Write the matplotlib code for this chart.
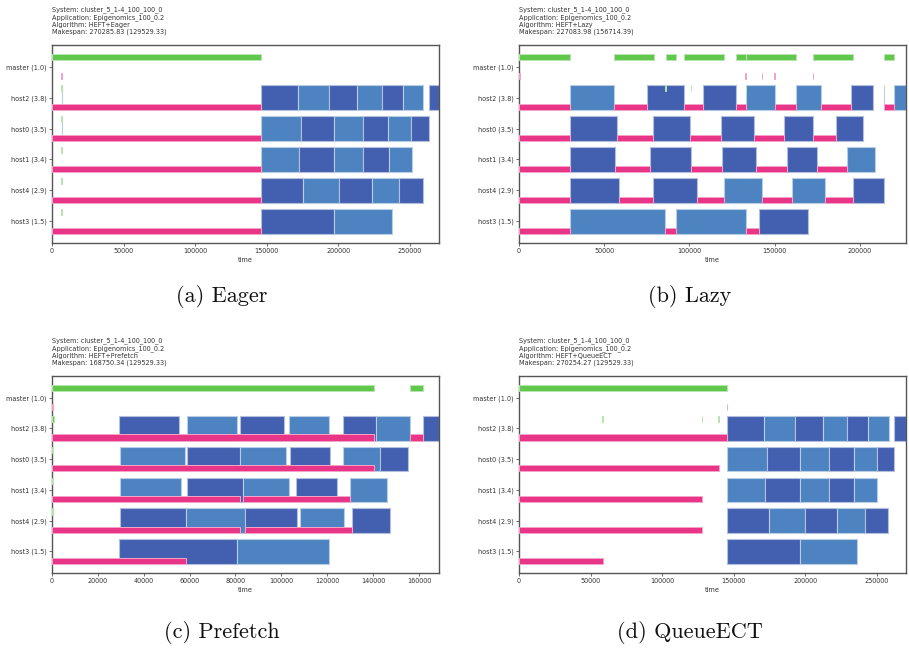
import matplotlib
matplotlib.use("Agg")
import matplotlib.pyplot as plt
from matplotlib.ticker import MultipleLocator
from matplotlib.colors import to_rgb

# ---------------------------------------------------------------- data
HOSTS = ["master (1.0)", "host2 (3.8)", "host0 (3.5)", "host1 (3.4)", "host4 (2.9)", "host3 (1.5)"]
SYSTEM = "cluster_5_1-4_100_100_0"
APPLICATION = "Epigenomics_100_0.2"
ALGORITHMS = ["HEFT+Eager", "HEFT+Lazy", "HEFT+Prefetch", "HEFT+QueueECT"]
MAKESPANS = ["270285.83", "227083.98", "168750.34", "270254.27"]
LOWER_BOUNDS = ["129529.33", "156714.39", "129529.33", "129529.33"]
MAKESPAN_VALUES = [270285.83, 227083.98, 168750.34, 270254.27]
CAPTIONS = ["(a) Eager", "(b) Lazy", "(c) Prefetch", "(d) QueueECT"]
XTICK_STEPS = [50000, 50000, 20000, 50000]

# master upload intervals (green band) per strategy
EAGER_MASTER_UP = [(0, 145950)]
LAZY_MASTER_UP = [(0, 29740), (55570, 79050), (86100, 91970), (96860, 120340),
                  (127190, 133060), (133450, 162410), (172590, 196070), (214270, 220330)]
PREFETCH_MASTER_UP = [(0, 140220), (155930, 161750)]
QUEUE_MASTER_UP = [(0, 145370)]

# master short download intervals (pink band)
EAGER_MASTER_DOWN = [(6400, 7000)]
LAZY_MASTER_DOWN = [(200, 600), (132900, 133300), (142400, 142800), (149900, 150300), (172400, 172800)]
PREFETCH_MASTER_DOWN = [(0, 600)]
QUEUE_MASTER_DOWN = [(145200, 145500)]

# short upload intervals on hosts (green band): host index -> intervals
EAGER_HOST_UP = {1: [(6400, 7000)], 2: [(6400, 6800)], 3: [(6400, 6800)], 4: [(6400, 6800)], 5: [(6400, 6800)]}
LAZY_HOST_UP = {1: [(85500, 86000), (100800, 101200), (133000, 133400), (213900, 214300)]}
PREFETCH_HOST_UP = {1: [(0, 700)], 2: [(0, 400)], 3: [(0, 400)], 4: [(0, 400)]}
QUEUE_HOST_UP = {1: [(58100, 58500), (127600, 128000), (139200, 139600)]}

# host transfer intervals (pink band)
EAGER_HOST_DOWN = {1: [(0, 145950)], 2: [(0, 145950)], 3: [(0, 145950)],
                   4: [(0, 145950)], 5: [(0, 145950)]}
LAZY_HOST_DOWN = {
    1: [(0, 29740), (55570, 75140), (96860, 108010), (127190, 133060),
        (150080, 162800), (177480, 195090), (214270, 220330)],
    2: [(0, 29740), (57720, 78660), (100180, 118380), (138140, 155560), (172590, 185890)],
    3: [(0, 29740), (56160, 77100), (101170, 119170), (139320, 157130), (174740, 192550)],
    4: [(0, 29740), (58700, 78860), (104490, 120340), (142650, 160260), (179630, 196070)],
    5: [(0, 29740), (85900, 91970), (133450, 140890)],
}
PREFETCH_HOST_DOWN = {1: [(0, 140220), (155930, 161750)], 2: [(0, 140220)],
                      3: [(0, 82040), (83490, 129750)], 4: [(0, 82040), (84360, 130910)],
                      5: [(0, 58470)]}
QUEUE_HOST_DOWN = {1: [(0, 145370)], 2: [(0, 139350)], 3: [(0, 127780)],
                   4: [(0, 127780)], 5: [(0, 58330)]}

# task executions: (start, end, shade) with shade "d" dark / "l" light
EAGER_TASKS = {
    1: [(145950, 172020, "d"), (172020, 193670, "l"), (193670, 213220, "d"), (213220, 230215, "l"),
        (230215, 245345, "d"), (245345, 259310, "l"), (263040, 270285, "d"), (6700, 6900, "l")],
    2: [(145950, 174120, "l"), (174120, 197160, "d"), (197160, 217180, "l"), (217180, 234870, "d"),
        (234870, 250930, "l"), (250930, 263040, "d"), (6700, 6900, "l")],
    3: [(145950, 172720, "l"), (172720, 197160, "d"), (197160, 217410, "l"), (217410, 235100, "d"),
        (235100, 251400, "l")],
    4: [(145950, 175050, "d"), (175050, 200650, "l"), (200650, 223230, "d"), (223230, 242550, "l"),
        (242550, 259080, "d")],
    5: [(145950, 197160, "d"), (197160, 237200, "l")],
}
LAZY_TASKS = {
    1: [(29740, 55570, "l"), (75140, 96860, "d"), (108010, 127190, "d"), (133060, 150080, "l"),
        (162800, 177480, "l"), (195090, 207810, "d"), (220330, 227084, "l"), (213900, 214100, "l")],
    2: [(29740, 57720, "d"), (78660, 100180, "d"), (118380, 138140, "d"), (155560, 172590, "d"),
        (185890, 201940, "d")],
    3: [(29740, 56160, "d"), (77100, 101170, "d"), (119170, 139320, "d"), (157130, 174740, "d"),
        (192550, 208790, "l")],
    4: [(29740, 58700, "d"), (78860, 104490, "d"), (120340, 142650, "l"), (160260, 179630, "l"),
        (196070, 214270, "d")],
    5: [(29740, 85900, "l"), (91970, 133450, "l"), (140890, 169850, "d")],
}
PREFETCH_TASKS = {
    1: [(29380, 55560, "d"), (58760, 80580, "l"), (82040, 101090, "d"), (103560, 120580, "l"),
        (126840, 141380, "d"), (141380, 155930, "l"), (161750, 168750, "d")],
    2: [(29670, 57890, "l"), (58760, 82040, "d"), (82040, 102110, "l"), (103850, 121310, "d"),
        (126840, 143130, "l"), (143130, 155200, "d")],
    3: [(29670, 56440, "l"), (58760, 83490, "d"), (83490, 103560, "l"), (106470, 124220, "d"),
        (129750, 146040, "l")],
    4: [(29670, 58470, "d"), (58470, 84360, "l"), (84360, 106910, "d"), (107930, 127130, "l"),
        (130910, 147200, "d")],
    5: [(29380, 80870, "d"), (80870, 120730, "l")],
}
QUEUE_TASKS = {
    1: [(145370, 171300, "d"), (171300, 193060, "l"), (193060, 212270, "d"), (212270, 229170, "l"),
        (229170, 243980, "d"), (243980, 258100, "l"), (262040, 270254, "d")],
    2: [(145370, 173380, "l"), (173380, 196530, "d"), (196530, 216440, "l"), (216440, 233800, "d"),
        (233800, 249770, "l"), (249770, 262040, "d")],
    3: [(145370, 171990, "l"), (171990, 196530, "d"), (196530, 216440, "l"), (216440, 234030, "d"),
        (234030, 250230, "l")],
    4: [(145370, 174310, "d"), (174310, 199770, "l"), (199770, 222220, "d"), (222220, 241670, "l"),
        (241670, 257870, "d")],
    5: [(145370, 196530, "d"), (196530, 236110, "l")],
}

MASTER_UP = [EAGER_MASTER_UP, LAZY_MASTER_UP, PREFETCH_MASTER_UP, QUEUE_MASTER_UP]
MASTER_DOWN = [EAGER_MASTER_DOWN, LAZY_MASTER_DOWN, PREFETCH_MASTER_DOWN, QUEUE_MASTER_DOWN]
HOST_UP = [EAGER_HOST_UP, LAZY_HOST_UP, PREFETCH_HOST_UP, QUEUE_HOST_UP]
HOST_DOWN = [EAGER_HOST_DOWN, LAZY_HOST_DOWN, PREFETCH_HOST_DOWN, QUEUE_HOST_DOWN]
TASKS = [EAGER_TASKS, LAZY_TASKS, PREFETCH_TASKS, QUEUE_TASKS]

# ---------------------------------------------------------------- style
DARK = "#4360b0"
LIGHT = "#4d83c0"
PINK = "#e83587"
GREEN = "#62c84d"
SPINE = "#555555"
TEXT = "#333333"


def lighten(c, f=0.55):
    r, g, b = to_rgb(c)
    return (r + (1 - r) * f, g + (1 - g) * f, b + (1 - b) * f)


def band(ax, row, intervals, color, y0, y1, z):
    for s, e in intervals:
        ax.barh(row + (y0 + y1) / 2, e - s, left=s, height=y1 - y0, color=color,
                edgecolor=lighten(color), linewidth=0.7, zorder=z)


fig = plt.figure(figsize=(9.09, 6.51), dpi=100)
W, H = 909, 651
boxes = [(52, 45, 439, 243), (519, 45, 906, 243), (52, 376, 439, 573), (519, 376, 906, 573)]
caption_pos = [(222, 296), (690, 296), (222, 633), (690, 633)]

for k in range(4):
    x0, y0, x1, y1 = boxes[k]
    ax = fig.add_axes([x0 / W, 1 - y1 / H, (x1 - x0) / W, (y1 - y0) / H])

    band(ax, 0, MASTER_UP[k], GREEN, -0.4, -0.2, 3)
    band(ax, 0, MASTER_DOWN[k], PINK, 0.2, 0.4, 3)
    for row, iv in TASKS[k].items():
        for s, e, shade in iv:
            col = DARK if shade == "d" else LIGHT
            ax.barh(row, e - s, left=s, height=0.8, color=col,
                    edgecolor=lighten(col, 0.6), linewidth=0.8, zorder=2)
    for row, iv in HOST_DOWN[k].items():
        band(ax, row, iv, PINK, 0.2, 0.4, 3)
    for row, iv in HOST_UP[k].items():
        band(ax, row, iv, GREEN, -0.4, -0.2, 3)

    ax.set_xlim(0, MAKESPAN_VALUES[k])
    ax.set_ylim(5.7, -0.7)
    ax.set_yticks(range(len(HOSTS)))
    ax.set_yticklabels(HOSTS)
    ax.xaxis.set_major_locator(MultipleLocator(XTICK_STEPS[k]))
    ax.tick_params(axis="both", labelsize=4.7, length=2, width=0.6, pad=1.8,
                   colors=SPINE, labelcolor=TEXT)
    ax.set_xlabel("time", fontsize=4.7, color=TEXT, labelpad=2)
    for sp in ax.spines.values():
        sp.set_color(SPINE)
        sp.set_linewidth(1.0)

    info = (f"System: {SYSTEM}\nApplication: {APPLICATION}\n"
            f"Algorithm: {ALGORITHMS[k]}\nMakespan: {MAKESPANS[k]} ({LOWER_BOUNDS[k]})")
    ax.text(0.0, 1.05, info, transform=ax.transAxes, ha="left", va="bottom",
            fontsize=4.7, color=TEXT, linespacing=1.18)

    cx, cy = caption_pos[k]
    fig.text(cx / W, 1 - cy / H, CAPTIONS[k], ha="center", va="center",
             fontsize=16, family="cmr10", color="#111111")

fig.savefig("out.png", dpi=100)
